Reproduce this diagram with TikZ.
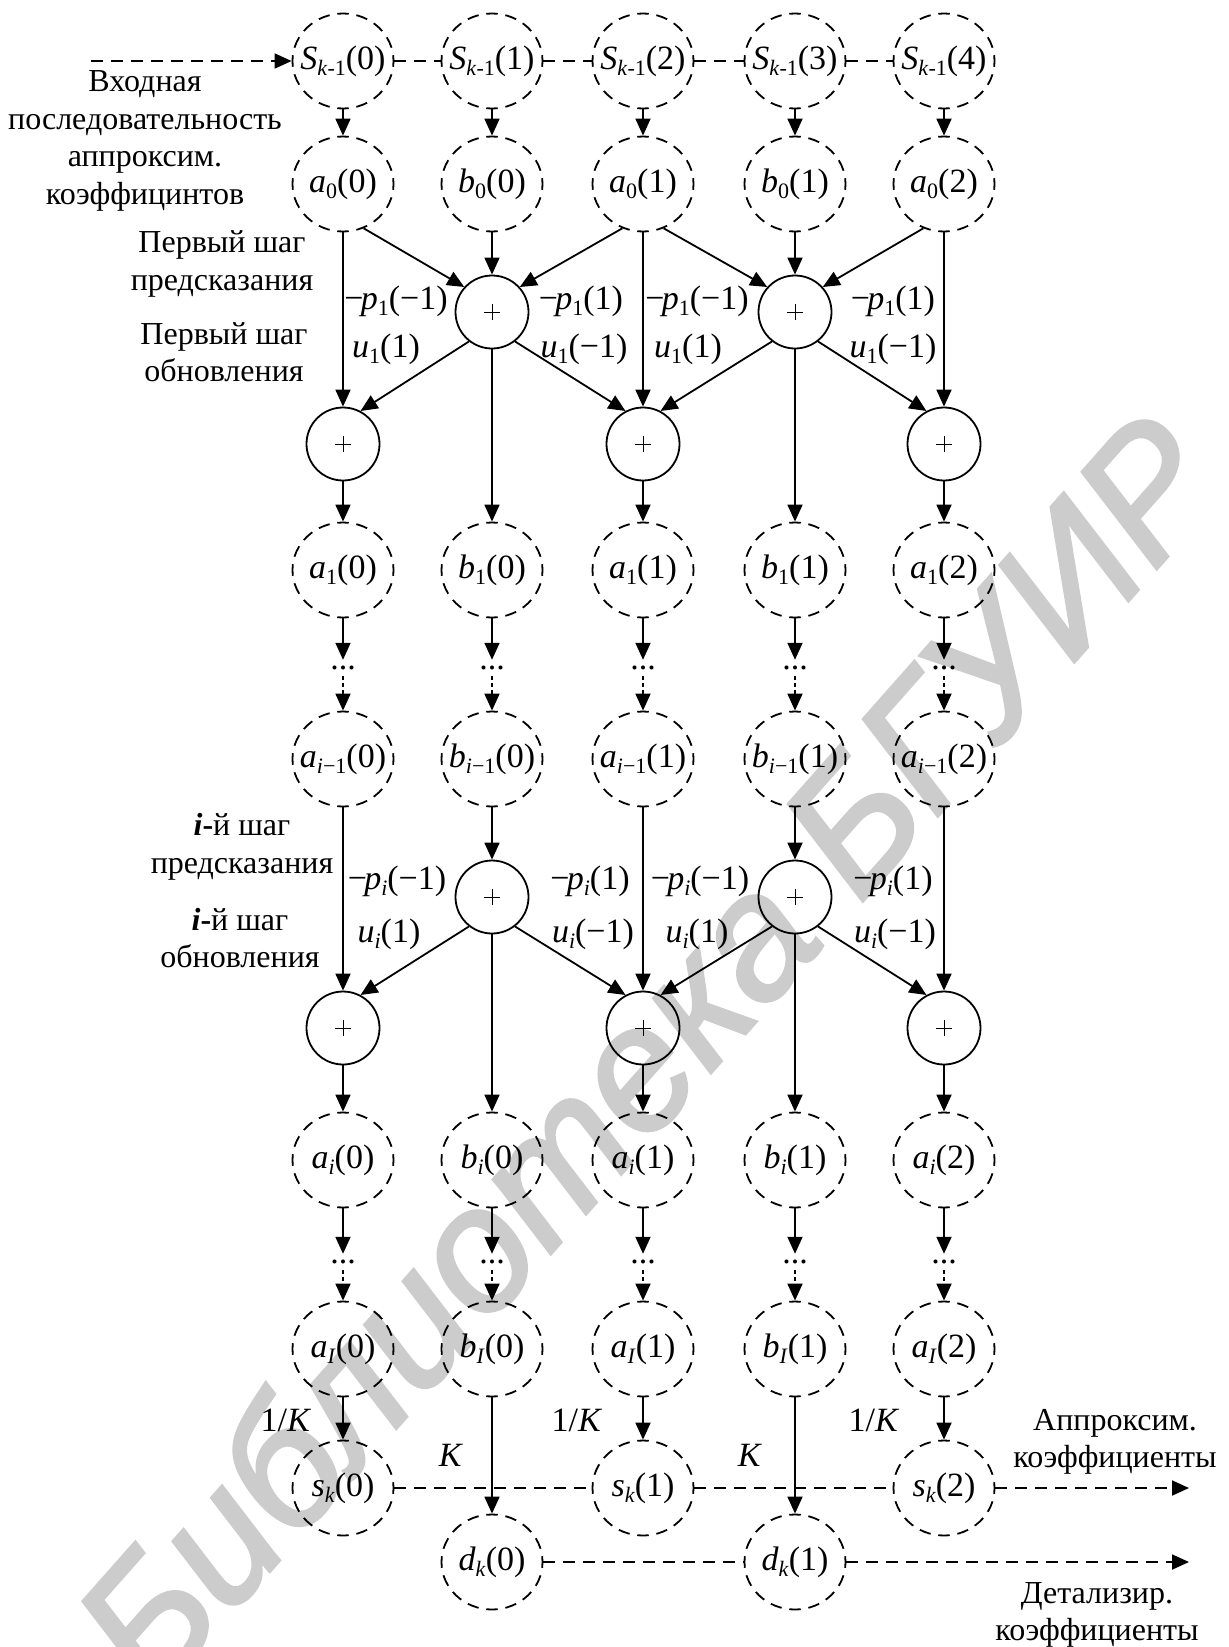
\documentclass[tikz,border=0pt]{standalone}
\usepackage{fontspec}
\setmainfont{Liberation Serif}
\newfontfamily\wmfont{Liberation Sans}[ItalicFeatures={FakeBold=2}]
\usetikzlibrary{arrows.meta,shapes.geometric}

\newcommand{\sbs}[1]{\raisebox{-0.2em}{\fontsize{22}{22}\selectfont #1}}
\newcommand{\nv}[3]{\textit{#1}\sbs{#2}(#3)}
\newcommand{\plab}[2]{−\kern-0.08em\textit{p}\sbs{#1}(#2)}
\newcommand{\ulab}[2]{\textit{u}\sbs{#1}(#2)}

\tikzset{
  every node/.style={font=\fontsize{34}{38}\selectfont, inner sep=0pt},
  dnode/.style={ellipse, draw, line width=1.8pt, minimum width=101pt, minimum height=95pt,
    inner sep=-10pt, dash pattern=on 11.5pt off 7.74pt, dash phase=5.75pt},
  pnode/.style={circle, draw, line width=1.8pt, minimum size=73pt,
    path picture={\draw[line width=0.9pt]
      ([xshift=-8pt]path picture bounding box.center) -- ([xshift=8pt]path picture bounding box.center)
      ([yshift=-8pt]path picture bounding box.center) -- ([yshift=8pt]path picture bounding box.center);}},
  dotsnode/.style={inner xsep=0pt, inner ysep=6pt},
  arr/.style={-{Triangle[length=17pt,width=15pt]}},
  conn/.style={line width=1.8pt, arr},
  dline/.style={line width=1.8pt, dash pattern=on 12pt off 8pt},
  dotconn/.style={dash pattern=on 4pt off 3pt},
  lbl/.style={align=center, font=\fontsize{32}{37.5}\selectfont},
  wm/.style={font=\wmfont\itshape\fontsize{174}{174}\selectfont, text=black!20, rotate=48.5}
}

\begin{document}
\begin{tikzpicture}[x=1pt,y=-1pt]
\useasboundingbox (0,0) rectangle (1229,1647);

% watermark
\node[wm] (wm) at (645,1052) {Библиотека БГУИР};

% top row S_{k-1}
\foreach \c/\x in {0/343,1/492,2/643,3/795,4/944}{
  \node[dnode] (r0c\c) at (\x,61) {\nv{S}{\textit{k}-1}{\c}};
}

% plus nodes
\node[pnode] (pa1) at (492,312) {};
\node[pnode] (pa3) at (795,312) {};
\node[pnode] (ua0) at (343,444) {};
\node[pnode] (ua2) at (643,444) {};
\node[pnode] (ua4) at (944,444) {};
\node[pnode] (pb1) at (492,897) {};
\node[pnode] (pb3) at (795,897) {};
\node[pnode] (ub0) at (343,1028) {};
\node[pnode] (ub2) at (643,1028) {};
\node[pnode] (ub4) at (944,1028) {};

% columns of coefficient nodes
\foreach \c/\x/\ltr/\idx in {0/343/a/0,1/492/b/0,2/643/a/1,3/795/b/1,4/944/a/2}{
  \node[dnode] (r1c\c) at (\x,184) {\nv{\ltr}{0}{\idx}};
  \node[dnode] (r2c\c) at (\x,570) {\nv{\ltr}{1}{\idx}};
  \node[dotsnode] (t1c\c) at (\x,668) {...};
  \node[dnode] (r3c\c) at (\x,759) {\nv{\ltr}{\textit{i}−1}{\idx}};
  \node[dnode] (r4c\c) at (\x,1160) {\nv{\ltr}{\textit{i}}{\idx}};
  \node[dotsnode] (t2c\c) at (\x,1262) {...};
  \node[dnode] (r5c\c) at (\x,1349) {\nv{\ltr}{\textit{I}}{\idx}};
  \draw[conn] (r0c\c) -- (r1c\c);
  \draw[conn] (r2c\c) -- (t1c\c);
  \draw[conn,dotconn] (t1c\c) -- (r3c\c);
  \draw[conn] (r4c\c) -- (t2c\c);
  \draw[conn,dotconn] (t2c\c) -- (r5c\c);
}

% output nodes
\node[dnode] (s0) at (343,1488) {\nv{s}{\textit{k}}{0}};
\node[dnode] (s1) at (643,1488) {\nv{s}{\textit{k}}{1}};
\node[dnode] (s2) at (944,1488) {\nv{s}{\textit{k}}{2}};
\node[dnode] (d0) at (492,1562) {\nv{d}{\textit{k}}{0}};
\node[dnode] (d1) at (795,1562) {\nv{d}{\textit{k}}{1}};

\coordinate (inS) at (91,61);
\coordinate (outS) at (1189,1488);
\coordinate (outD) at (1189,1562);

% top dashed chain
\draw[dline,arr] (inS) -- (r0c0);
\draw[dline] (r0c0) -- (r0c1);
\draw[dline] (r0c1) -- (r0c2);
\draw[dline] (r0c2) -- (r0c3);
\draw[dline] (r0c3) -- (r0c4);

% first lifting step
\draw[conn] (r1c0) -- (ua0);
\draw[conn] (r1c0.-65) -- (pa1.138);
\draw[conn] (r1c1) -- (pa1);
\draw[conn] (r1c2.-115) -- (pa1.42);
\draw[conn] (r1c2) -- (ua2);
\draw[conn] (r1c2.-65) -- (pa3.138);
\draw[conn] (r1c3) -- (pa3);
\draw[conn] (r1c4.-115) -- (pa3.42);
\draw[conn] (r1c4) -- (ua4);
\draw[conn] (pa1.232) -- (ua0.62);
\draw[conn] (pa1.-52) -- (ua2.118);
\draw[conn] (pa1) -- (r2c1);
\draw[conn] (pa3.232) -- (ua2.62);
\draw[conn] (pa3.-52) -- (ua4.118);
\draw[conn] (pa3) -- (r2c3);
\draw[conn] (ua0) -- (r2c0);
\draw[conn] (ua2) -- (r2c2);
\draw[conn] (ua4) -- (r2c4);

% i-th lifting step
\draw[conn] (r3c0) -- (ub0);
\draw[conn] (r3c1) -- (pb1);
\draw[conn] (r3c2) -- (ub2);
\draw[conn] (r3c3) -- (pb3);
\draw[conn] (r3c4) -- (ub4);
\draw[conn] (pb1.232) -- (ub0.62);
\draw[conn] (pb1.-52) -- (ub2.118);
\draw[conn] (pb1) -- (r4c1);
\draw[conn] (pb3.232) -- (ub2.62);
\draw[conn] (pb3.-52) -- (ub4.118);
\draw[conn] (pb3) -- (r4c3);
\draw[conn] (ub0) -- (r4c0);
\draw[conn] (ub2) -- (r4c2);
\draw[conn] (ub4) -- (r4c4);

% scaling / outputs
\draw[conn] (r5c0) -- (s0);
\draw[conn] (r5c2) -- (s1);
\draw[conn] (r5c4) -- (s2);
\draw[conn] (r5c1) -- (d0);
\draw[conn] (r5c3) -- (d1);
\draw[dline] (s0) -- (s1);
\draw[dline] (s1) -- (s2);
\draw[dline,arr] (s2) -- (outS);
\draw[dline] (d0) -- (d1);
\draw[dline,arr] (d1) -- (outD);

% edge labels, first step
\node (la1) at (396,301) {\plab{1}{−1}};
\node (la2) at (386,349) {\ulab{1}{1}};
\node (la3) at (581,301) {\plab{1}{1}};
\node (la4) at (584,349) {\ulab{1}{−1}};
\node (la5) at (697,301) {\plab{1}{−1}};
\node (la6) at (688,349) {\ulab{1}{1}};
\node (la7) at (893,301) {\plab{1}{1}};
\node (la8) at (893,349) {\ulab{1}{−1}};
% edge labels, i-th step
\node (lb1) at (397,881) {\plab{\textit{i}}{−1}};
\node (lb2) at (389,934) {\ulab{\textit{i}}{1}};
\node (lb3) at (590,881) {\plab{\textit{i}}{1}};
\node (lb4) at (593,934) {\ulab{\textit{i}}{−1}};
\node (lb5) at (700,881) {\plab{\textit{i}}{−1}};
\node (lb6) at (697,934) {\ulab{\textit{i}}{1}};
\node (lb7) at (893,881) {\plab{\textit{i}}{1}};
\node (lb8) at (895,934) {\ulab{\textit{i}}{−1}};
% scaling labels
\node (k1) at (286,1420) {1/\textit{K}};
\node (k2) at (577,1420) {1/\textit{K}};
\node (k3) at (874,1420) {1/\textit{K}};
\node (k4) at (451,1455) {\textit{K}};
\node (k5) at (750,1455) {\textit{K}};

% side texts
\node[lbl] (g1) at (145,141) {Входная\\последовательность\\аппроксим.\\коэффицинтов};
\node[lbl] (g2) at (222,264) {Первый шаг\\предсказания};
\node[lbl] (g3) at (224,352) {Первый шаг\\обновления};
\node[lbl] (g4) at (242,847) {\textbf{\textit{i}-}й шаг\\предсказания};
\node[lbl] (g5) at (240,938) {\textbf{\textit{i}-}й шаг\\обновления};
\node[lbl] (o1) at (1115,1442) {Аппроксим.\\коэффициенты};
\node[lbl] (o2) at (1097,1615) {Детализир.\\коэффициенты};
\end{tikzpicture}
\end{document}
